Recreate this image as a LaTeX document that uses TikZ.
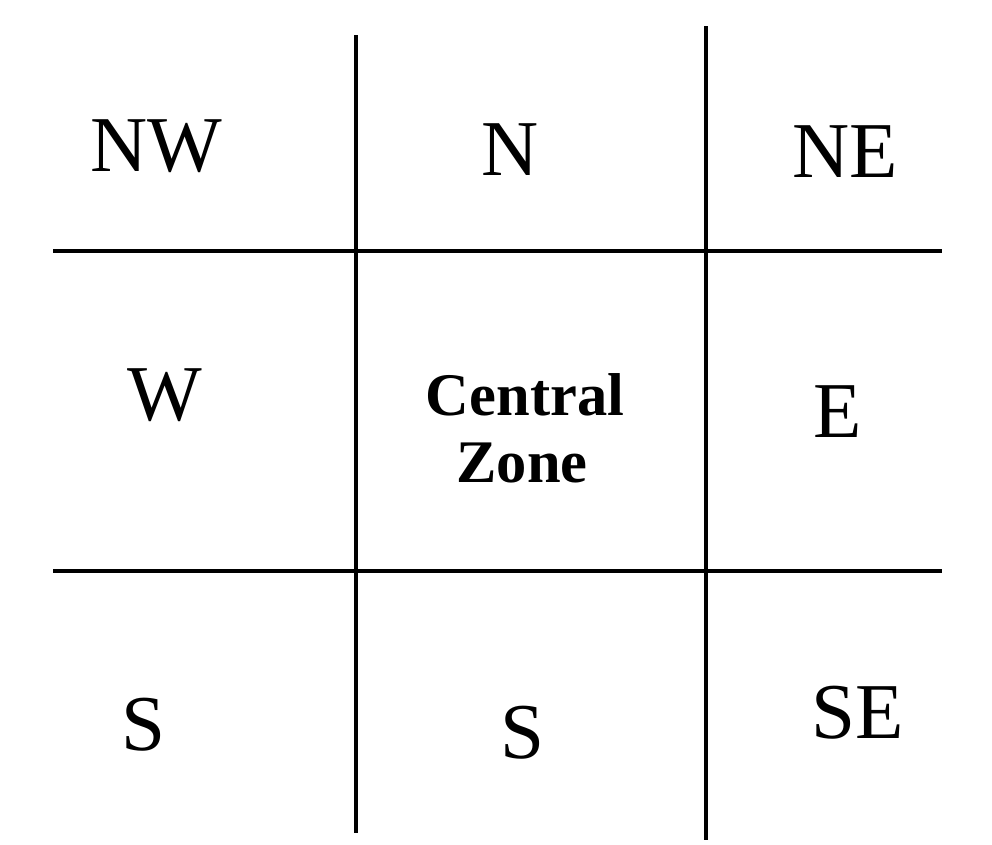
\documentclass[tikz,border=0pt]{standalone}
\usepackage{fontspec}
\setmainfont{Liberation Serif}
\usepackage{tikz}
\usepackage{xcolor}

\tikzset{
  zonelabel/.style={anchor=base,inner sep=0pt,font=\fontsize{22.5}{27}\selectfont},
  centrelabel/.style={anchor=base,inner sep=0pt,font=\bfseries\fontsize{17.2}{19}\selectfont},
  gridline/.style={line width=1.4pt,black}
}

\begin{document}
\begin{tikzpicture}[x=0.01cm,y=-0.01cm]
\useasboundingbox (0,0) rectangle (992,844);
\draw[gridline] (356,35) -- (356,833);
\draw[gridline] (706,26) -- (706,840);
\draw[gridline] (53,251) -- (942,251);
\draw[gridline] (53,571) -- (942,571);
\node[zonelabel] (nw) at (156,171) {NW};
\node[zonelabel] (n) at (510,175) {N};
\node[zonelabel] (ne) at (845,177) {NE};
\node[zonelabel] (w) at (165,420) {W};
\node[centrelabel] (cz1) at (525,415) {Central};
\node[centrelabel] (cz2) at (522,482) {Zone};
\node[zonelabel] (e) at (838,437) {E};
\node[zonelabel] (sw) at (143,750) {S};
\node[zonelabel] (s) at (522,758) {S};
\node[zonelabel] (se) at (858,738) {SE};
\end{tikzpicture}
\end{document}
